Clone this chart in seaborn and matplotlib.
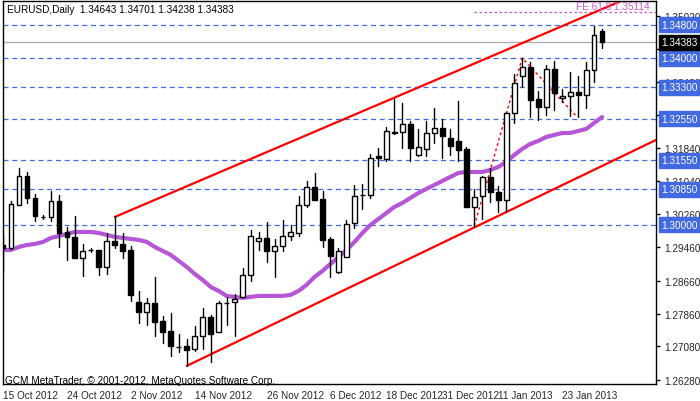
import matplotlib
matplotlib.use("Agg")
import matplotlib.pyplot as plt
import seaborn as sns
import numpy as np
import pandas as pd
from matplotlib.patches import Rectangle

opens = [1.29516,1.29444,1.30476,1.31172,1.30644,1.30188,1.30188,1.30572,1.29828,1.29708,
         1.29200,1.29396,1.29396,1.28988,1.29612,1.29540,1.29396,1.28148,1.27908,1.28124,
         1.27692,1.27452,1.27068,1.27092,1.27020,1.27330,1.27788,1.27428,1.28124,1.28148,
         1.28268,1.28796,1.29612,1.29684,1.29372,1.29492,1.29732,1.29804,1.30476,1.30908,
         1.30620,1.29660,1.28868,1.29228,1.30044,1.30716,1.30716,1.31652,1.31580,1.32228,
         1.32228,1.32420,1.31676,1.31820,1.32204,1.32324,1.32084,1.32012,1.31820,1.30428,
         1.30692,1.31148,1.30788,1.30596,1.32684,1.33572,1.33788,1.33020,1.32828,1.33740,
         1.33044,1.33092,1.33188,1.33116,1.33716,1.34643]
highs = [1.29756,1.30572,1.31364,1.31268,1.30740,1.30236,1.30812,1.30716,1.29948,1.30212,
         1.29540,1.29444,1.29396,1.29804,1.30212,1.29804,1.29492,1.28412,1.28244,1.28748,
         1.27812,1.27884,1.27380,1.27260,1.27572,1.28004,1.27836,1.28172,1.28268,1.28340,
         1.28964,1.29876,1.29828,1.30068,1.29660,1.30116,1.29996,1.30690,1.31052,1.31244,
         1.30812,1.29708,1.29444,1.30116,1.30956,1.30980,1.31700,1.31844,1.32348,1.33020,
         1.32924,1.32492,1.32300,1.32492,1.32804,1.32540,1.32300,1.32972,1.31868,1.30860,
         1.31172,1.31364,1.30932,1.32708,1.33620,1.34004,1.33908,1.33212,1.33836,1.33932,
         1.33260,1.33668,1.33572,1.33908,1.34772,1.34701]
lows = [1.28868,1.29420,1.30476,1.30524,1.30092,1.30140,1.30092,1.29468,1.29156,1.29228,
        1.28772,1.29348,1.28796,1.28820,1.29444,1.29204,1.28172,1.27644,1.27596,1.27332,
        1.27164,1.26852,1.26948,1.26612,1.26972,1.27020,1.26700,1.27428,1.27596,1.27332,
        1.28268,1.28652,1.29396,1.29108,1.28748,1.29372,1.29636,1.29732,1.30428,1.30596,
        1.29468,1.28748,1.28844,1.29228,1.29930,1.30380,1.30644,1.31412,1.31532,1.32180,
        1.31844,1.31532,1.31652,1.31652,1.31964,1.31604,1.31676,1.31532,1.30428,1.29972,
        1.30140,1.30548,1.30308,1.30308,1.32444,1.33308,1.32588,1.32516,1.32636,1.32756,
        1.32948,1.32612,1.32588,1.32804,1.33428,1.34238]
closes = [1.29444,1.30500,1.31172,1.30644,1.30212,1.30180,1.30572,1.29804,1.29708,1.29200,
          1.29372,1.29390,1.28988,1.29612,1.29516,1.29372,1.28316,1.27908,1.28124,1.27668,
          1.27428,1.27092,1.27060,1.26996,1.27330,1.27788,1.27380,1.28124,1.28130,1.28220,
          1.28796,1.29732,1.29684,1.29372,1.29492,1.29732,1.29828,1.30476,1.30908,1.30596,
          1.29636,1.29252,1.29372,1.30020,1.30692,1.30710,1.31604,1.31604,1.32252,1.32204,
          1.32420,1.31844,1.31868,1.32204,1.32324,1.32132,1.31892,1.31796,1.30428,1.30668,
          1.31148,1.30788,1.30596,1.32684,1.33400,1.33788,1.32996,1.32828,1.33740,1.33164,
          1.33092,1.33188,1.33116,1.33716,1.34556,1.34383]
ma = [1.29396,1.29396,1.29468,1.29516,1.29540,1.29588,1.29684,1.29732,1.29780,1.29828,
      1.29828,1.29828,1.29804,1.29756,1.29708,1.29684,1.29660,1.29636,1.29588,1.29468,
      1.29372,1.29276,1.29132,1.28988,1.28820,1.28676,1.28508,1.28412,1.28292,1.28268,
      1.28244,1.28268,1.28292,1.28292,1.28292,1.28292,1.28316,1.28412,1.28556,1.28748,
      1.28892,1.29060,1.29228,1.29396,1.29588,1.29804,1.29996,1.30140,1.30284,1.30428,
      1.30524,1.30644,1.30764,1.30860,1.30956,1.31052,1.31148,1.31244,1.31268,1.31268,
      1.31268,1.31316,1.31388,1.31508,1.31676,1.31820,1.31940,1.32012,1.32108,1.32156,
      1.32204,1.32204,1.32252,1.32300,1.32444,1.32588]
levels = [1.34800,1.34000,1.33300,1.32550,1.31550,1.30850,1.30000]
ticks = [1.35020,1.34220,1.33420,1.32640,1.31840,1.31040,1.30260,1.29460,1.28660,1.27860,1.27080,1.26280]
date_pos = [0,8,16,24,33,41,48,55,62,70]
date_labels = ["15 Oct 2012","24 Oct 2012","2 Nov 2012","14 Nov 2012","26 Nov 2012",
               "6 Dec 2012","18 Dec 2012","31 Dec 2012","11 Jan 2013","23 Jan 2013"]
upper_ch = [(14,1.30188),(81.75,1.35732)]
lower_ch = [(23,1.26612),(81.75,1.32036)]
fib = [(59,1.29972),(65,1.34004),(71.75,1.32612)]
fe_level = 1.35114
last_price = 1.34383

sns.set_theme(style="white")
plt.rcParams['font.family'] = ['Liberation Sans', 'DejaVu Sans']
FS = 7.2
fig = plt.figure(figsize=(7.0,4.02), dpi=100)
ax = fig.add_axes([3/700, 17/402, 653/700, 383/402])
ymin, ymax = 1.26177, 1.35373
ax.set_xlim(0, 81.75); ax.set_ylim(ymin, ymax)

BLUE = "#4169e1"
for lv in levels:
    ax.axhline(lv, color=BLUE, lw=0.9, ls=(0,(4,3)), zorder=1)
ax.axhline(last_price, color="#b0b0b0", lw=1, zorder=1)
ax.plot([59,81.75],[fe_level,fe_level], color="#cc55cc", lw=0.9, ls=(0,(2,2)), zorder=1)

for (a,b) in [upper_ch, lower_ch]:
    ax.plot([a[0], b[0]], [a[1], b[1]], color="red", lw=1.6, zorder=2)
ax.plot([p[0] for p in fib],[p[1] for p in fib], color="red", lw=1, ls=(0,(2,2)), zorder=2)

df = pd.DataFrame({"i":np.arange(len(ma)),"ma":ma})
sns.lineplot(data=df, x="i", y="ma", ax=ax, color="#b655d6", lw=3, zorder=3)

w = 0.6
for i,(o,h,l,c) in enumerate(zip(opens,highs,lows,closes)):
    ax.plot([i,i],[l,h], color="black", lw=1, zorder=4)
    lo, hi = min(o,c), max(o,c)
    hgt = max(hi-lo, 0.00004)
    fc = "white" if c >= o else "black"
    ax.add_patch(Rectangle((i-w/2, lo), w, hgt, facecolor=fc, edgecolor="black", lw=1, zorder=5))

ax.yaxis.tick_right()
ax.set_yticks(ticks)
ax.set_yticklabels([f"{t:.5f}" for t in ticks], fontsize=FS)
ax.tick_params(axis='y', direction='out', length=3, width=1, color='black', pad=3)
ax.set_xticks(date_pos)
ax.set_xticklabels(date_labels, fontsize=FS, ha='left')
ax.tick_params(axis='x', direction='out', length=3, width=1, color='black', pad=1)
ax.set_xlabel(""); ax.set_ylabel("")
for s in ax.spines.values():
    s.set_color("black"); s.set_linewidth(1)

tr = ax.get_yaxis_transform()
for lv in levels:
    ax.text(1.008, lv, f"{lv:.5f}", transform=tr, fontsize=FS, color="white", va="center", ha="left",
            bbox=dict(boxstyle="square,pad=0.25", fc=BLUE, ec=BLUE), clip_on=False, zorder=10)
ax.text(1.008, last_price, f"{last_price:.5f}", transform=tr, fontsize=FS, color="white", va="center",
        ha="left", bbox=dict(boxstyle="square,pad=0.25", fc="black", ec="black"), clip_on=False, zorder=10)
ax.text(80.9, fe_level+0.00015, f"FE 61.8 {fe_level:.5f}", fontsize=FS, color="#cc55cc", ha="right", va="bottom", zorder=6)
ax.text(0.5, 1.3518, "EURUSD,Daily  1.34643 1.34701 1.34238 1.34383", fontsize=FS, color="black", va="center", zorder=6)
ax.text(0.3, 1.2628, "GCM MetaTrader, © 2001-2012, MetaQuotes Software Corp.", fontsize=FS, color="black", va="center", zorder=6)

fig.savefig("out.png", dpi=100)
